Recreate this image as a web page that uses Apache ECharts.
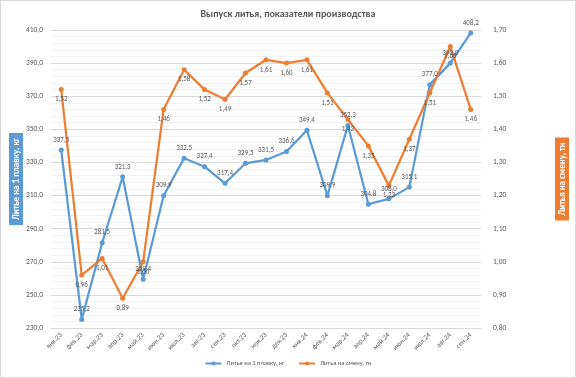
<!DOCTYPE html>
<html>
<head>
<meta charset="utf-8">
<script src="https://cdn.jsdelivr.net/npm/echarts@6/dist/echarts.min.js"></script>
<style>
  html, body { margin: 0; padding: 0; background: #fff; }
  #chart { width: 576px; height: 378px; box-sizing: border-box; border: 1px solid #d9d9d9; }
</style>
</head>
<body>
<div id="chart"></div>
<script>
const months = ['янв.23', 'фев.23', 'мар.23', 'апр.23', 'май.23', 'июн.23', 'июл.23', 'авг.23', 'сен.23', 'окт.23', 'ноя.23', 'дек.23',
  'янв.24', 'фев.24', 'мар.24', 'апр.24', 'май.24', 'июн.24', 'июл.24', 'авг.24', 'сен.24'];
const perMelt = [337.5, 235.2, 281.5, 321.3, 259.4, 309.9, 332.5, 327.4, 317.4, 329.5, 331.5, 336.6,
  349.4, 309.9, 352.3, 304.8, 308.0, 315.1, 377.0, 390.0, 408.2];
const perShift = [1.52, 0.96, 1.01, 0.89, 1.00, 1.46, 1.58, 1.52, 1.49, 1.57, 1.61, 1.60,
  1.61, 1.51, 1.43, 1.35, 1.23, 1.37, 1.51, 1.65, 1.46];

const txt = '#595959';
const font = 'Calibri, Carlito, "Liberation Sans", sans-serif';
const comma = (v, d) => v.toFixed(d).replace('.', ',');

const chart = echarts.init(document.getElementById('chart'));
chart.setOption({
  animation: false,
  textStyle: { fontFamily: font },
  title: {
    text: 'Выпуск литья, показатели производства',
    left: 'center', top: 3,
    textStyle: { fontSize: 10, fontWeight: 'bold', color: txt, fontFamily: font }
  },
  legend: {
    bottom: 5, left: 'center', itemWidth: 16, itemHeight: 5, itemGap: 14,
    textStyle: { fontSize: 6.5, color: txt },
    data: ['Литье на 1 плавку, кг', 'Литья на смену, тн']
  },
  grid: { left: 50, right: 94, top: 29, bottom: 49, outerBoundsMode: 'none' },
  xAxis: {
    type: 'category', data: months,
    axisLine: { lineStyle: { color: '#d9d9d9' } },
    axisTick: { show: false },
    axisLabel: { rotate: 45, fontSize: 7, color: txt, margin: 6, interval: 0 }
  },
  yAxis: [{
    type: 'value', min: 230, max: 410, interval: 20,
    name: 'Литье на 1 плавку, кг', nameLocation: 'middle', nameGap: 28, nameRotate: 90, nameMoveOverlap: false,
    nameTextStyle: { color: '#fff', fontSize: 9, fontWeight: 'bold', backgroundColor: '#5b9bd5', padding: [3, 5, 2, 5] },
    axisLabel: { fontSize: 7.5, color: txt, formatter: v => comma(v, 1) },
    splitLine: { lineStyle: { color: '#d9d9d9' } },
    minorTick: { show: false, splitNumber: 5 },
    minorSplitLine: { show: true, lineStyle: { color: '#f2f2f2' } }
  }, {
    type: 'value', min: 0.8, max: 1.7, interval: 0.1,
    name: 'Литья на смену, тн', nameLocation: 'middle', nameGap: 74, nameRotate: 90, nameMoveOverlap: false,
    nameTextStyle: { color: '#fff', fontSize: 9, fontWeight: 'bold', backgroundColor: '#ed7d31', padding: [3, 5, 2, 5] },
    axisLabel: { fontSize: 7.5, color: txt, margin: 12, formatter: v => comma(v, 2) },
    splitLine: { show: false }
  }],
  series: [{
    name: 'Литье на 1 плавку, кг', type: 'line', data: perMelt,
    color: '#5b9bd5', symbol: 'circle', symbolSize: 5,
    lineStyle: { width: 2.25 },
    label: { show: true, position: 'top', fontSize: 7, color: txt, distance: 4, formatter: p => comma(p.value, 1) }
  }, {
    name: 'Литья на смену, тн', type: 'line', yAxisIndex: 1, data: perShift,
    color: '#ed7d31', symbol: 'circle', symbolSize: 5,
    lineStyle: { width: 2.25 },
    label: { show: true, position: 'bottom', fontSize: 7, color: txt, distance: 4, formatter: p => comma(p.value, 2) }
  }]
});
</script>
</body>
</html>
